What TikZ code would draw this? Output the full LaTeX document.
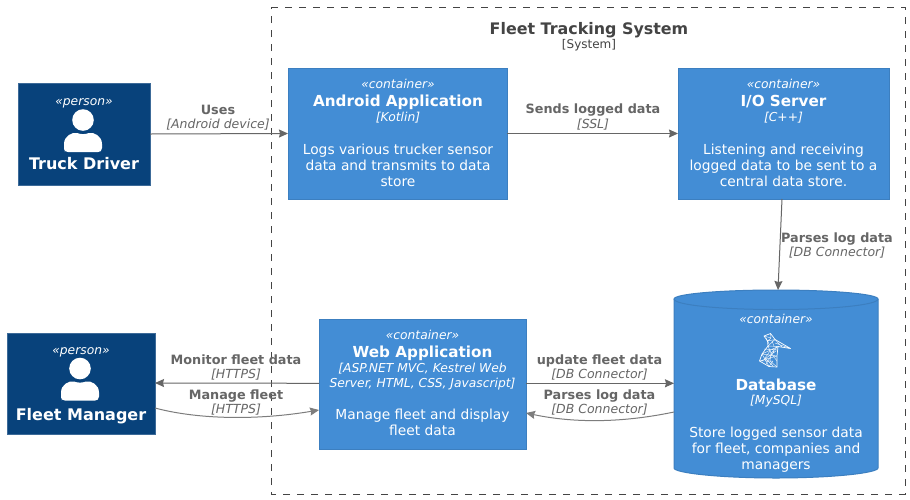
\documentclass[tikz,border=0pt]{standalone}
\usepackage{fontspec}
\setmainfont{DejaVu Sans}
\usetikzlibrary{arrows.meta}
\definecolor{contfill}{HTML}{438DD5}
\definecolor{contline}{HTML}{3C7FC0}
\definecolor{persfill}{HTML}{08427B}
\definecolor{persline}{HTML}{3C6A98}
\definecolor{relcol}{HTML}{666666}
\definecolor{bndcol}{HTML}{444444}
\newcommand{\fs}[1]{\fontsize{#1}{#1}\selectfont}
\tikzset{
  x=1pt,y=-1pt,
  every node/.style={inner sep=0pt,outer sep=0pt},
  contbox/.style={draw=contline,fill=contfill,line width=1pt,anchor=north west},
  persbox/.style={draw=persline,fill=persfill,line width=.8pt,anchor=north west},
  anchorbox/.style={anchor=north west},
  wt/.style={text=white,anchor=base},
  stereo/.style={wt,font=\fs{12.3}\itshape,yshift=-4.4pt},
  ctitle/.style={wt,font=\fs{15.2}\bfseries,yshift=-5.5pt},
  ptitle/.style={wt,font=\fs{16}\bfseries,yshift=-5.8pt},
  ctech/.style={wt,font=\fs{12.3}\itshape,yshift=-4.4pt},
  cdesc/.style={wt,font=\fs{13.8},yshift=-5pt},
  rlabel/.style={text=relcol,anchor=base,font=\fs{12.8}\bfseries,yshift=-4.6pt},
  rtech/.style={text=relcol,anchor=base,font=\fs{12.5}\itshape,yshift=-4.5pt},
  rel/.style={draw=relcol,line width=1pt,-{Stealth[length=9pt,width=8pt,inset=1pt]}},
  rel2/.style={draw=relcol!85!white,line width=1pt,-{Stealth[length=9pt,width=8pt,inset=1pt]}},
}
\newcommand{\personicon}[2]{%
  \begin{scope}[shift={(#1,#2)}]
    \fill[white] (0,0) circle (10.8);
    \fill[white] (-19,32) -- (-19,24) .. controls (-19,16) and (-11,12) .. (-6,13) .. controls (-2,14.5) and (2,14.5) .. (6,13) .. controls (11,12) and (19,16) .. (19,24) -- (19,28) .. controls (19,31) and (17,32) .. (15,32) -- (-15,32) .. controls (-17,32) and (-19,31) .. (-19,28) -- cycle;
  \end{scope}}
\begin{document}
\begin{tikzpicture}
\useasboundingbox (0,0) rectangle (910,499);
\fill[white] (0,0) rectangle (910,499);
% boundary
\node[anchor=north west,minimum width=634pt,minimum height=487pt] (sys) at (271,7) {};
\draw[bndcol,line width=1pt,dash pattern=on 7pt off 7pt] (sys.north west) -- (sys.north east) -- (sys.south east) -- (sys.south west) -- cycle;
\node[text=bndcol,anchor=base,font=\fs{15.9}\bfseries,yshift=-5.8pt] (systitle) at (589,29) {Fleet Tracking System};
\node[text=bndcol,anchor=base,font=\fs{12},yshift=-4.4pt] (systech) at (589,44.5) {[System]};
% boxes
\node[persbox,minimum width=132pt,minimum height=102pt] (td) at (18,83) {};
\node[persbox,minimum width=148pt,minimum height=101pt] (fm) at (7,333) {};
\node[contbox,minimum width=219pt,minimum height=131pt] (aa) at (288,68) {};
\node[contbox,minimum width=211pt,minimum height=131pt] (io) at (678,68) {};
\node[contbox,minimum width=207pt,minimum height=130pt] (web) at (319,319) {};
\node[anchorbox,minimum width=204pt,minimum height=188pt] (db) at (674,290) {};
% cylinder
\draw[contline,fill=contfill,line width=1pt] (674,299) .. controls (674,294) and (720,290) .. (776,290) .. controls (832,290) and (878,294) .. (878,299) -- (878,468) .. controls (878,473) and (832,478) .. (776,478) .. controls (720,478) and (674,473) .. (674,468) -- cycle;
\draw[contline,line width=1pt] (674,299) .. controls (674,305) and (720,309.5) .. (776,309.5) .. controls (832,309.5) and (878,305) .. (878,299);
% icons
\personicon{83}{120}
\personicon{80}{368.5}
% db icon
\begin{scope}[draw=white,line join=round]
  \draw[line width=.7pt] (764,336) -- (770.5,333.5) -- (775,339.5) -- (790.5,348.5) -- (778,346.5) -- (777,356) -- (777,367) -- (769,366.5) -- (759.5,361) -- (762,354) -- (768,346) -- (767.5,341) -- cycle;
  \draw[line width=.45pt,opacity=.9] (767.5,341) -- (775,339.5) -- (768,346) -- (778,346.5) -- (762,354) -- (777,356) -- (759.5,361) -- (773,361) -- (769,366.5)
    (768,346) -- (771,353) -- (770,361) -- (777,367)
    (762,354) -- (769,366.5) (771,353) -- (778,346.5) (771,353) -- (777,361)
    (764,336) -- (771,338) -- (770.5,333.5) (771,338) -- (767.5,341) (775,339.5) -- (782,347) (775,343) -- (790.5,348.5)
    (765,358) -- (770,351) (765,358) -- (773,366) (772,341) -- (774,346) (766,338) -- (769,344) (774,351) -- (766,364) (762,361) -- (776,351) (764,349) -- (777,350);
\end{scope}
% truck
\node[stereo] (tdA) at (84,101) {«person»};
\node[ptitle] (tdB) at (84,164) {Truck Driver};
% fleet manager
\node[stereo] (fmA) at (81,350) {«person»};
\node[ptitle] (fmB) at (81,414.5) {Fleet Manager};
% android
\node[stereo] (aaA) at (398,84) {«container»};
\node[ctitle] (aaB) at (398,101) {Android Application};
\node[ctech] (aaC) at (398,117) {[Kotlin]};
\node[cdesc] (aaD) at (398,149) {Logs various trucker sensor};
\node[cdesc] (aaE) at (398,165) {data and transmits to data};
\node[cdesc] (aaF) at (398,181) {store};
% io
\node[stereo] (ioA) at (783.5,84) {«container»};
\node[ctitle] (ioB) at (783.5,101) {I/O Server};
\node[ctech] (ioC) at (783.5,117) {[C++]};
\node[cdesc] (ioD) at (783.5,149) {Listening and receiving};
\node[cdesc] (ioE) at (783.5,165) {logged data to be sent to a};
\node[cdesc] (ioF) at (783.5,181) {central data store.};
% web
\node[stereo] (webA) at (422.5,335) {«container»};
\node[ctitle] (webB) at (422.5,352) {Web Application};
\node[ctech] (webC) at (422.5,368) {[ASP.NET MVC, Kestrel Web};
\node[ctech] (webD) at (422.5,383) {Server, HTML, CSS, Javascript]};
\node[cdesc] (webE) at (422.5,414) {Manage fleet and display};
\node[cdesc] (webF) at (422.5,430) {fleet data};
% db
\node[stereo] (dbA) at (776,319.5) {«container»};
\node[ctitle] (dbB) at (776,385) {Database};
\node[ctech] (dbC) at (776,400.5) {[MySQL]};
\node[cdesc] (dbD) at (776,432) {Store logged sensor data};
\node[cdesc] (dbE) at (776,448) {for fleet, companies and};
\node[cdesc] (dbF) at (776,464) {managers};
% connectors
\draw[rel] (td.east) -- (aa.west);
\draw[rel] (aa.east) -- (io.west);
\draw[rel] ([xshift=-1.5pt]io.south) -- ([xshift=2pt]db.north);
\draw[rel] ([yshift=.7pt]web.west) -- ([yshift=.5pt]fm.east);
\draw[rel2] ([yshift=-24.5pt]fm.east) .. controls +(45,12) and +(-59,10) .. ([yshift=-26pt]web.west);
\draw[rel] ([yshift=.7pt]web.east) -- ([yshift=.7pt]db.west);
\draw[rel2] ([yshift=-28pt]db.west) .. controls +(-50,10.5) and +(50,10.5) .. ([yshift=-29pt]web.east);
% labels
\node[rlabel] (l1) at (218,110) {Uses};
\node[rtech] (l1t) at (218,124) {[Android device]};
\node[rlabel] (l2) at (593,109) {Sends logged data};
\node[rtech] (l2t) at (593,123.5) {[SSL]};
\node[rlabel] (l3) at (837,238) {Parses log data};
\node[rtech] (l3t) at (837,252) {[DB Connector]};
\node[rlabel] (l4) at (236,360) {Monitor fleet data};
\node[rtech] (l4t) at (236,374) {[HTTPS]};
\node[rlabel] (l5) at (236,395) {Manage fleet};
\node[rtech] (l5t) at (236,409) {[HTTPS]};
\node[rlabel] (l6) at (599.5,360) {update fleet data};
\node[rtech] (l6t) at (599.5,374) {[DB Connector]};
\node[rlabel] (l7) at (599.5,395) {Parses log data};
\node[rtech] (l7t) at (599.5,409) {[DB Connector]};
\end{tikzpicture}
\end{document}
